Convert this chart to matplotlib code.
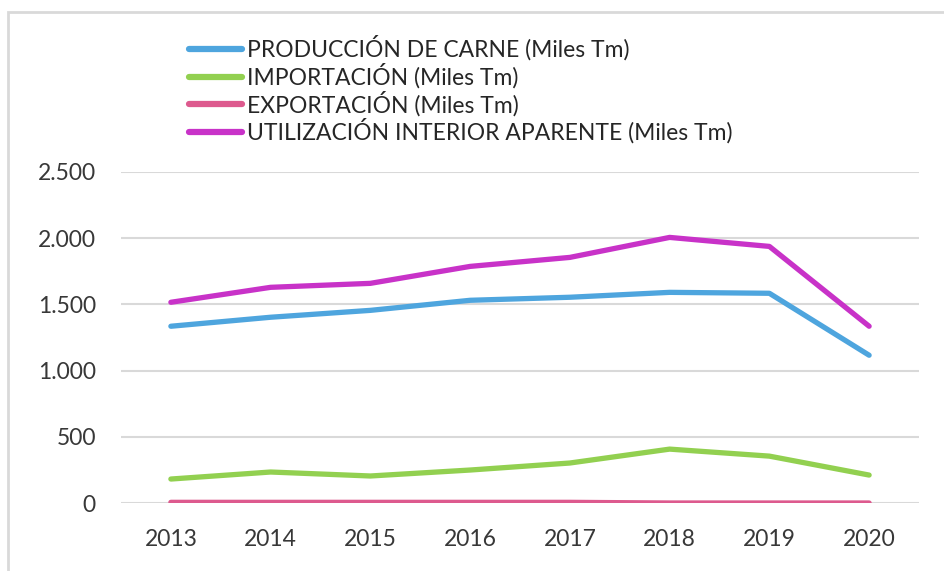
import matplotlib
matplotlib.use("Agg")
import matplotlib.pyplot as plt
from matplotlib.patches import Rectangle
from matplotlib.ticker import FuncFormatter

# data
years = ["2013", "2014", "2015", "2016", "2017", "2018", "2019", "2020"]
produccion = [1335, 1403, 1455, 1531, 1554, 1591, 1584, 1116]
importacion = [181, 234, 204, 249, 302, 407, 354, 211]
exportacion = [5, 5, 5, 5, 5, 0, 0, 0]
utilizacion = [1516, 1629, 1659, 1787, 1855, 2006, 1938, 1335]

labels = [
    "PRODUCCIÓN DE CARNE (Miles Tm)",
    "IMPORTACIÓN (Miles Tm)",
    "EXPORTACIÓN (Miles Tm)",
    "UTILIZACIÓN INTERIOR APARENTE (Miles Tm)",
]
colors = ["#4EA5DE", "#92D050", "#DD5A8E", "#C832C8"]

W, H = 944, 571
fig = plt.figure(figsize=(W / 100, H / 100), dpi=100)
fig.patch.set_facecolor("white")

# outer frame (only top/left visible in the reference)
fig.add_artist(Rectangle((8 / W, -0.1), 1.2, 1 - 12 / H + 0.1, transform=fig.transFigure,
                         facecolor="none", edgecolor="#D9D9D9", linewidth=2.0))

ax = fig.add_axes([121 / W, (H - 503) / H, (919 - 121) / W, (503 - 172) / H])
x = list(range(len(years)))
series = [produccion, importacion, exportacion, utilizacion]
for vals, lab, col in zip(series, labels, colors):
    ax.plot(x, vals, color=col, linewidth=3.8, solid_capstyle="round",
            solid_joinstyle="round", label=lab, zorder=3)

ax.set_xlim(-0.5, len(years) - 0.5)
ax.set_ylim(0, 2500)
ax.set_yticks([0, 500, 1000, 1500, 2000, 2500])
ax.yaxis.set_major_formatter(FuncFormatter(lambda v, p: f"{int(v):,}".replace(",", ".")))
ax.set_xticks(x)
ax.set_xticklabels(years)
ax.grid(axis="y", color="#D9D9D9", linewidth=1.5, zorder=0)
for s in ax.spines.values():
    s.set_visible(False)
ax.tick_params(axis="y", length=0, pad=18, labelsize=16.5, labelcolor="#383838")
ax.tick_params(axis="x", length=0, pad=19, labelsize=16.5, labelcolor="#383838")
for t in ax.get_xticklabels() + ax.get_yticklabels():
    t.set_family(["Lato", "DejaVu Sans"])

leg = fig.legend(loc="upper left", bbox_to_anchor=(178 / W, 1 - 24 / H),
                 frameon=False, borderpad=0, handlelength=2.3, handletextpad=0.2,
                 labelspacing=0.10, prop={"family": ["Lato", "DejaVu Sans"], "size": 16.5})
for t in leg.get_texts():
    t.set_color("#262626")
for h in leg.get_lines():
    h.set_linewidth(4.5)

fig.savefig("out.png", dpi=100)
